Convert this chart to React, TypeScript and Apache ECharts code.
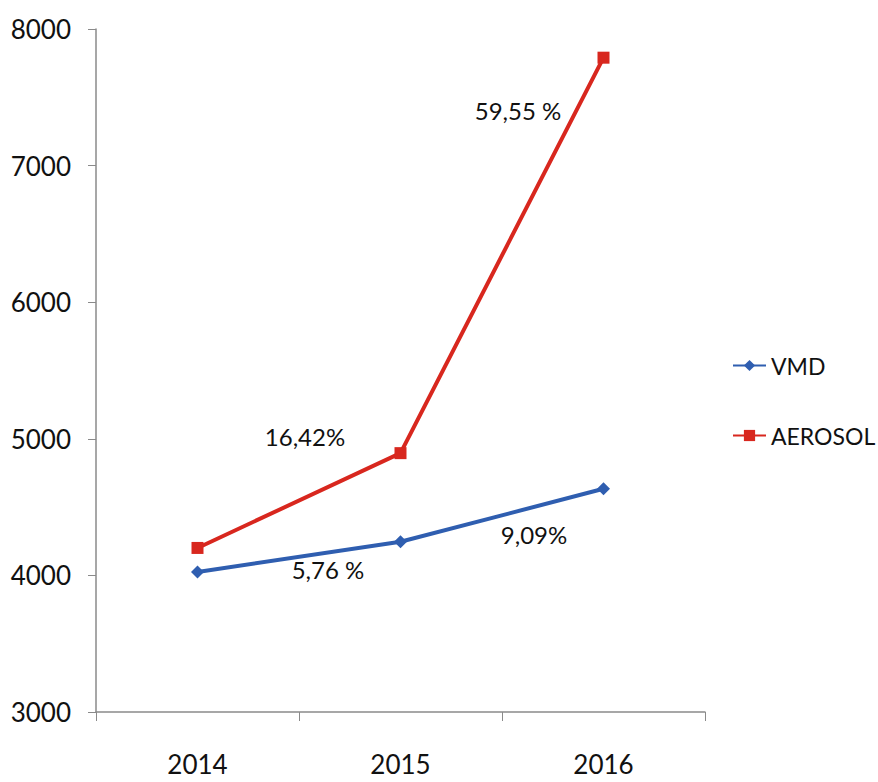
import React, { useEffect, useRef } from "react";
import * as echarts from "echarts";

const categories = ["2014", "2015", "2016"];
const vmdValues = [4025, 4246, 4634];
const aerosolValues = [4201, 4895, 7790];
const yTicks = [3000, 4000, 5000, 6000, 7000, 8000];
const annotations = [
  { text: "5,76 %", x: 328, y: 569 },
  { text: "9,09%", x: 534, y: 534 },
  { text: "16,42%", x: 305, y: 436 },
  { text: "59,55 %", x: 518, y: 110 },
];

const FONT = "'Lato', 'Open Sans', sans-serif";
const BLUE = "#2f5eb0";
const RED = "#d8271e";

export default function App() {
  const ref = useRef<HTMLDivElement>(null);
  useEffect(() => {
    document.body.style.margin = "0";
    if (!ref.current) return;
    const chart = echarts.init(ref.current, undefined, { renderer: "svg" });
    chart.setOption({
      animation: false,
      backgroundColor: "#ffffff",
      grid: { left: 96, top: 29, right: 173, bottom: 70, containLabel: false },
      legend: {
        orient: "vertical",
        left: 727,
        top: 349,
        itemWidth: 33,
        itemHeight: 14,
        itemGap: 47,
        textStyle: { fontFamily: FONT, fontSize: 23, color: "#111" },
        data: ["VMD", "AEROSOL"],
      },
      xAxis: {
        type: "category",
        data: categories,
        boundaryGap: true,
        axisLine: { lineStyle: { color: "#8a8a8a", width: 1.5 } },
        axisTick: { show: true, length: 9, lineStyle: { color: "#8a8a8a" } },
        axisLabel: {
          fontFamily: FONT,
          fontSize: 26,
          color: "#111",
          margin: 39,
        },
        splitLine: { show: false },
      },
      yAxis: {
        type: "value",
        min: yTicks[0],
        max: yTicks[yTicks.length - 1],
        interval: 1000,
        axisLine: { show: true, lineStyle: { color: "#8a8a8a", width: 1.5 } },
        axisTick: { show: true, length: 8, lineStyle: { color: "#8a8a8a" } },
        axisLabel: {
          fontFamily: FONT,
          fontSize: 26,
          color: "#111",
          margin: 25,
          formatter: (v: number) => String(v),
        },
        splitLine: { show: false },
      },
      series: [
        {
          name: "VMD",
          type: "line",
          data: vmdValues,
          symbol: "diamond",
          symbolSize: 13,
          lineStyle: { color: BLUE, width: 4 },
          itemStyle: { color: BLUE },
        },
        {
          name: "AEROSOL",
          type: "line",
          data: aerosolValues,
          symbol: "rect",
          symbolSize: 12,
          lineStyle: { color: RED, width: 4 },
          itemStyle: { color: RED },
        },
      ],
      graphic: annotations.map((a) => ({
        type: "text",
        x: a.x,
        y: a.y,
        style: {
          text: a.text,
          fontFamily: FONT,
          fontSize: 24,
          fill: "#111",
          align: "center",
          verticalAlign: "middle",
        },
      })),
    });
    return () => chart.dispose();
  }, []);
  return <div ref={ref} style={{ width: 878, height: 782 }} />;
}
